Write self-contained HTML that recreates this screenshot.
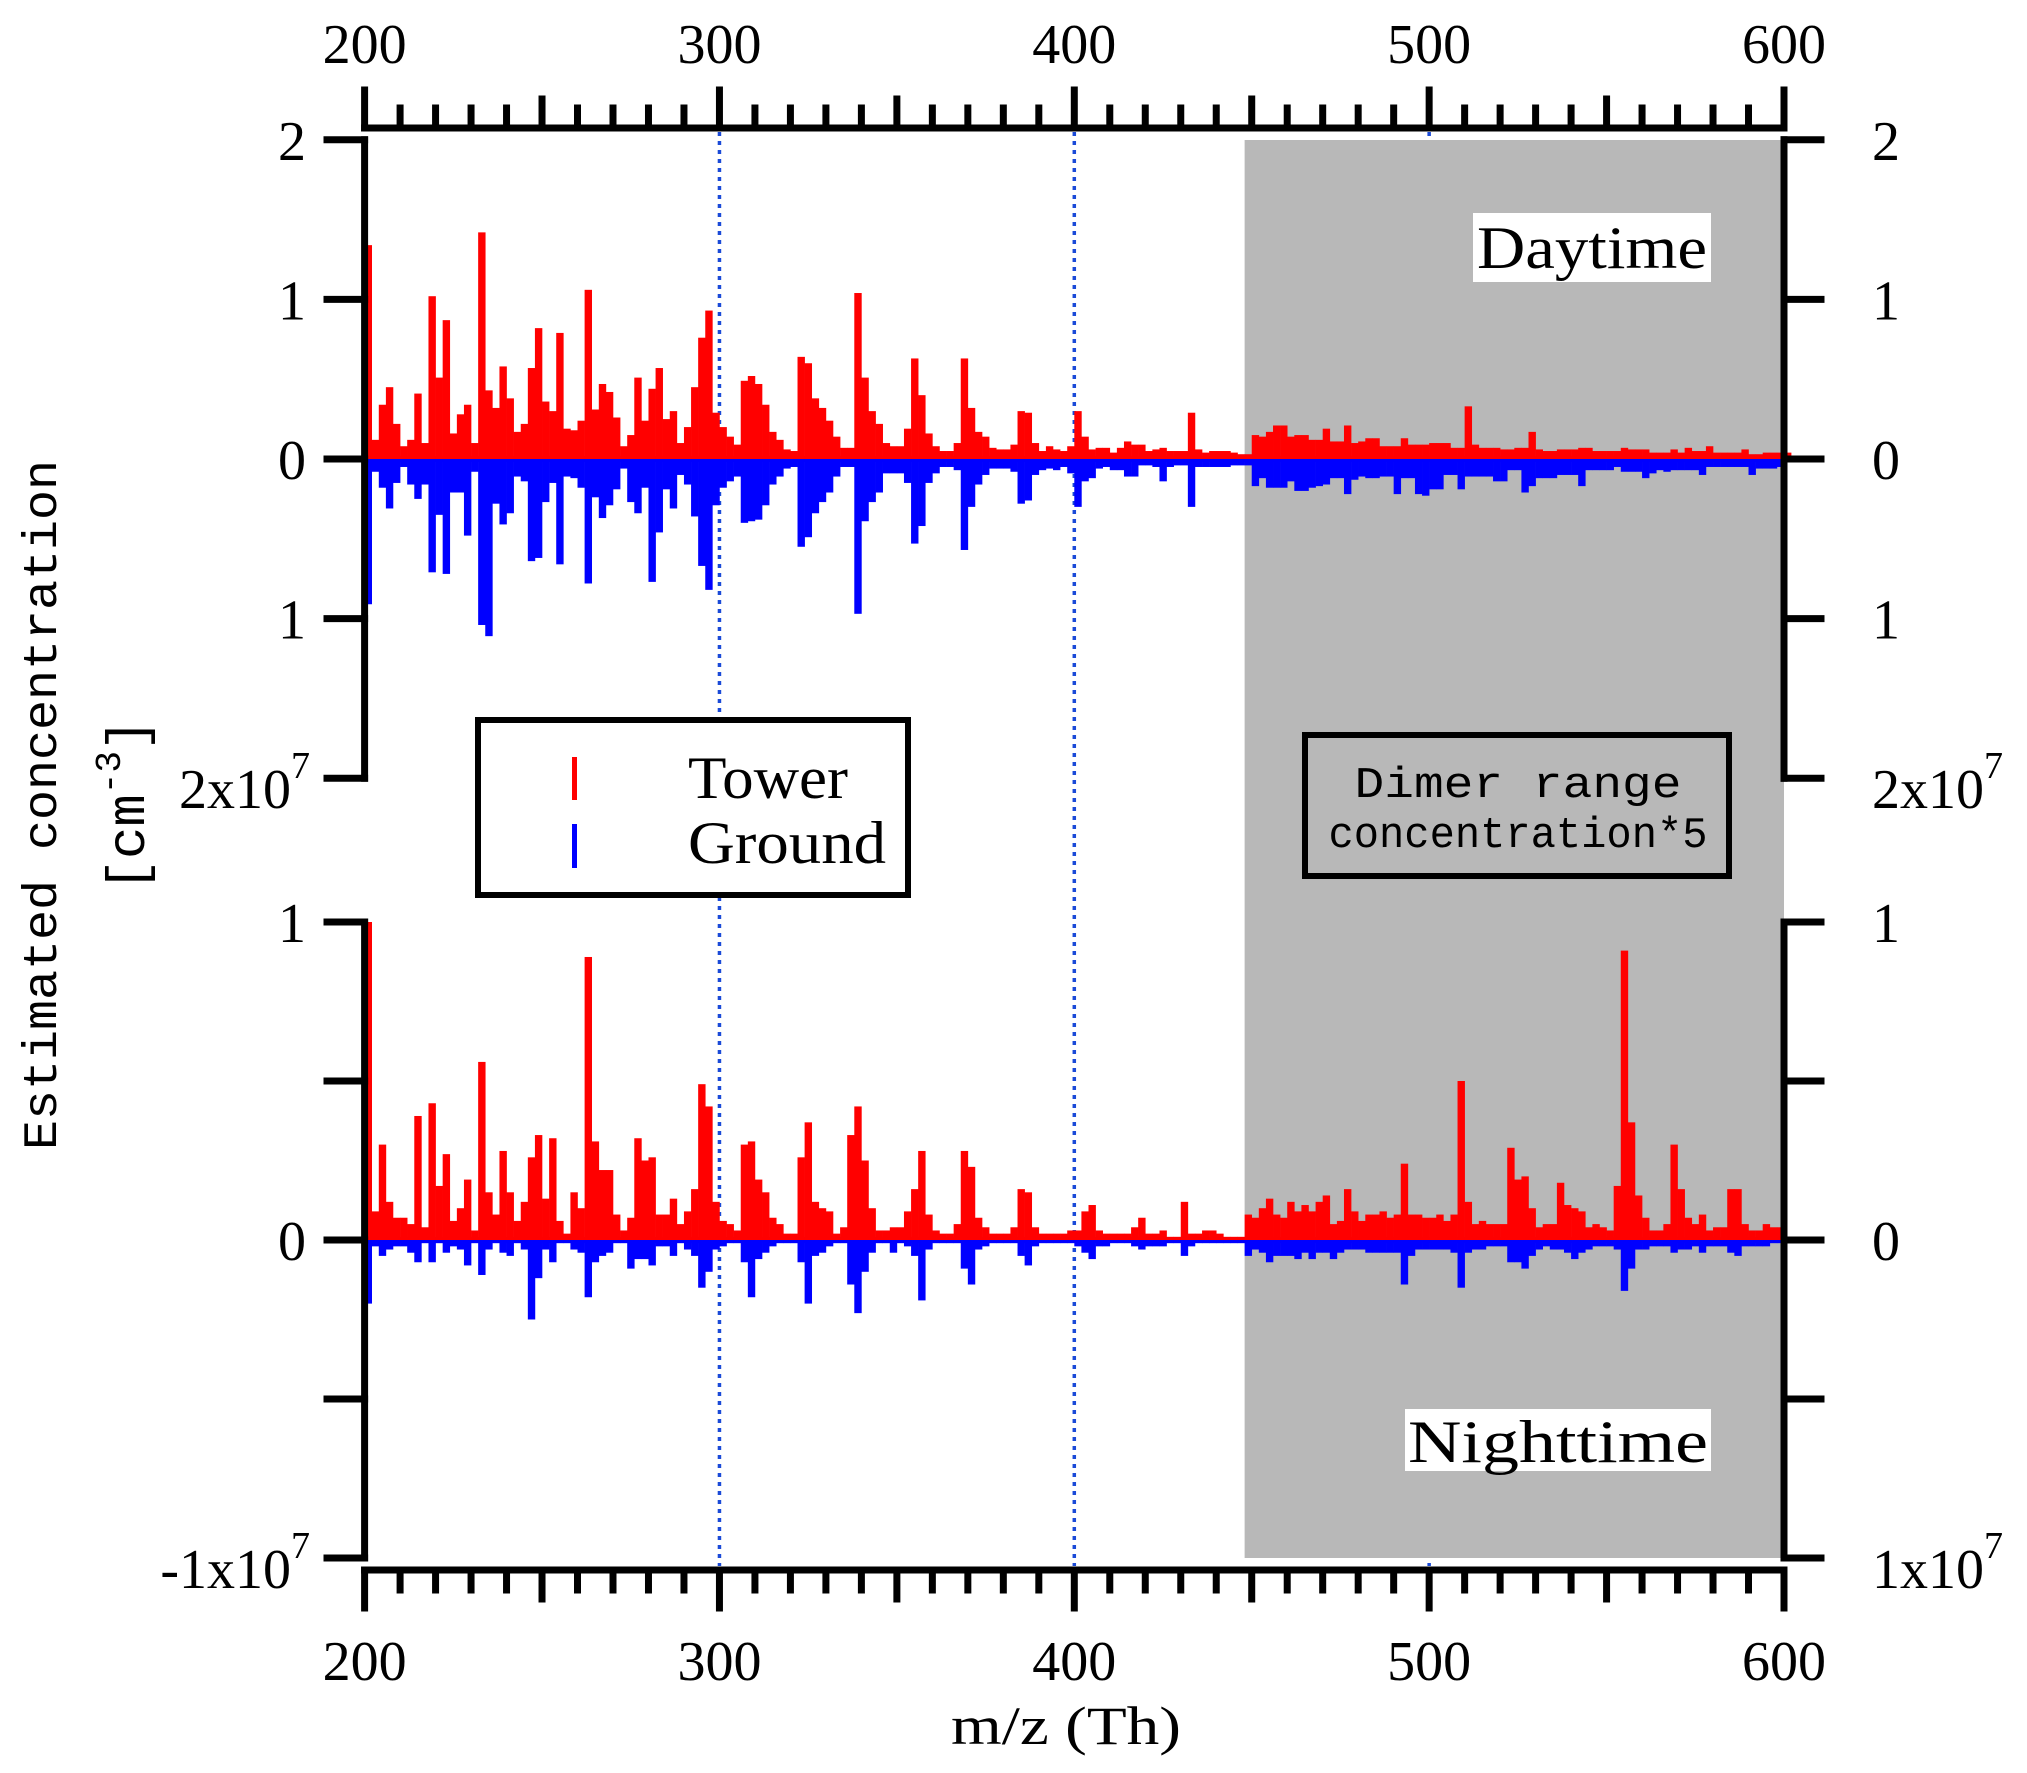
<!DOCTYPE html>
<html><head><meta charset="utf-8"><style>
html,body{margin:0;padding:0;background:#fff}
svg{display:block}
text{font-family:"Liberation Serif",serif;fill:#000}
</style></head><body>
<svg id="chart" width="2027" height="1773" viewBox="0 0 2027 1773" xmlns="http://www.w3.org/2000/svg">
<g id="bg"></g><g id="bars"></g><g id="axes"></g><g id="labels"></g>
</svg>
<script>
const dayTower=[1.34,0.12,0.34,0.45,0.22,0.08,0.12,0.41,0.10,1.02,0.51,0.87,0.16,0.28,0.34,0.10,1.42,0.43,0.32,0.58,0.38,0.17,0.22,0.57,0.82,0.36,0.30,0.79,0.19,0.18,0.24,1.06,0.31,0.47,0.42,0.26,0.08,0.15,0.51,0.24,0.44,0.57,0.25,0.30,0.10,0.20,0.45,0.76,0.93,0.29,0.20,0.14,0.09,0.49,0.52,0.47,0.34,0.17,0.12,0.06,0.05,0.64,0.60,0.38,0.32,0.24,0.14,0.07,0.07,1.04,0.51,0.30,0.22,0.10,0.08,0.08,0.19,0.63,0.40,0.16,0.08,0.05,0.05,0.10,0.63,0.32,0.17,0.14,0.07,0.06,0.06,0.09,0.30,0.29,
0.10,0.05,0.08,0.06,0.05,0.08,0.30,0.14,0.06,0.07,0.07,0.04,0.07,0.11,0.09,0.09,0.05,0.06,0.07,0.05,0.05,0.05,0.29,0.06,0.04,0.05,0.05,0.05,0.04,0.03,0.03,0.15,0.14,0.17,0.21,0.21,0.14,0.15,0.15,0.12,0.12,0.19,0.11,0.11,0.21,0.10,0.11,0.13,0.13,0.08,0.08,0.08,0.13,0.09,0.09,0.09,0.10,0.10,0.10,0.07,0.07,0.33,0.09,0.07,0.07,0.07,0.06,0.06,0.07,0.07,0.17,0.06,0.05,0.05,0.06,0.06,0.06,0.07,0.07,0.05,0.05,0.05,0.05,0.07,0.06,0.06,0.06,0.04,0.04,0.04,0.06,0.04,0.07,0.05,0.05,0.08,0.04,0.04,0.04,0.04,0.06,0.03,0.03,0.04,0.04,0.04,0.04];
const dayGround=[-0.91,-0.08,-0.18,-0.31,-0.15,-0.05,-0.16,-0.25,-0.16,-0.71,-0.35,-0.72,-0.21,-0.21,-0.48,-0.08,-1.04,-1.11,-0.28,-0.41,-0.34,-0.11,-0.14,-0.64,-0.62,-0.27,-0.15,-0.66,-0.11,-0.12,-0.18,-0.78,-0.24,-0.37,-0.29,-0.19,-0.06,-0.27,-0.34,-0.18,-0.77,-0.46,-0.19,-0.31,-0.10,-0.16,-0.36,-0.67,-0.82,-0.29,-0.18,-0.14,-0.11,-0.40,-0.39,-0.38,-0.29,-0.16,-0.11,-0.06,-0.05,-0.55,-0.49,-0.34,-0.27,-0.21,-0.11,-0.05,-0.05,-0.97,-0.39,-0.27,-0.21,-0.09,-0.09,-0.09,-0.15,-0.53,-0.42,-0.15,-0.09,-0.05,-0.05,-0.07,-0.57,-0.30,-0.16,-0.10,-0.06,-0.06,-0.06,-0.08,-0.28,-0.26,
-0.10,-0.07,-0.06,-0.07,-0.05,-0.09,-0.30,-0.14,-0.12,-0.06,-0.05,-0.07,-0.07,-0.11,-0.11,-0.04,-0.04,-0.05,-0.14,-0.05,-0.04,-0.04,-0.30,-0.05,-0.05,-0.05,-0.05,-0.05,-0.04,-0.04,-0.04,-0.17,-0.12,-0.18,-0.18,-0.18,-0.14,-0.20,-0.20,-0.18,-0.17,-0.16,-0.12,-0.12,-0.22,-0.13,-0.11,-0.12,-0.12,-0.11,-0.11,-0.22,-0.12,-0.12,-0.22,-0.23,-0.19,-0.19,-0.10,-0.10,-0.19,-0.11,-0.11,-0.11,-0.11,-0.14,-0.14,-0.07,-0.07,-0.21,-0.17,-0.12,-0.12,-0.12,-0.10,-0.10,-0.10,-0.17,-0.07,-0.07,-0.07,-0.07,-0.05,-0.08,-0.08,-0.08,-0.12,-0.09,-0.07,-0.08,-0.07,-0.07,-0.07,-0.07,-0.10,-0.05,-0.05,-0.05,-0.05,-0.05,-0.05,-0.10,-0.06,-0.06,-0.06,-0.05];
const nightTower=[1.00,0.09,0.30,0.12,0.07,0.07,0.05,0.39,0.04,0.43,0.17,0.27,0.06,0.10,0.19,0.03,0.56,0.15,0.08,0.28,0.15,0.06,0.12,0.26,0.33,0.13,0.32,0.06,0.02,0.15,0.10,0.89,0.31,0.22,0.22,0.08,0.03,0.07,0.32,0.25,0.26,0.08,0.08,0.13,0.05,0.09,0.16,0.49,0.42,0.12,0.06,0.05,0.03,0.30,0.31,0.19,0.15,0.07,0.05,0.02,0.02,0.26,0.37,0.12,0.10,0.09,0.02,0.04,0.33,0.42,0.25,0.10,0.03,0.03,0.04,0.04,0.09,0.16,0.28,0.08,0.03,0.02,0.02,0.05,0.28,0.23,0.07,0.04,0.02,0.02,0.02,0.04,0.16,0.15,0.04,0.02,0.02,0.02,0.02,0.03,
0.03,0.09,0.11,0.03,0.02,0.02,0.02,0.02,0.04,0.07,0.02,0.02,0.03,0.01,0.01,0.12,0.02,0.02,0.03,0.03,0.02,0.01,0.01,0.01,0.08,0.07,0.10,0.13,0.08,0.07,0.12,0.09,0.11,0.09,0.12,0.14,0.05,0.06,0.16,0.09,0.06,0.08,0.08,0.09,0.07,0.08,0.24,0.08,0.08,0.07,0.07,0.08,0.06,0.08,0.50,0.12,0.05,0.06,0.05,0.05,0.05,0.29,0.19,0.20,0.10,0.04,0.05,0.05,0.18,0.11,0.10,0.09,0.04,0.05,0.04,0.03,0.17,0.91,0.37,0.14,0.07,0.03,0.03,0.05,0.30,0.16,0.07,0.05,0.08,0.03,0.04,0.04,0.16,0.16,0.05,0.03,0.03,0.05,0.04,0.04];
const nightGround=[-0.20,-0.02,-0.05,-0.03,-0.02,-0.02,-0.04,-0.07,-0.01,-0.07,-0.01,-0.04,-0.02,-0.03,-0.08,-0.01,-0.11,-0.03,-0.01,-0.04,-0.05,-0.01,-0.03,-0.25,-0.12,-0.03,-0.07,-0.01,-0.01,-0.03,-0.04,-0.18,-0.07,-0.05,-0.04,-0.01,-0.01,-0.09,-0.06,-0.06,-0.08,-0.02,-0.02,-0.05,-0.01,-0.03,-0.05,-0.15,-0.10,-0.03,-0.02,-0.01,-0.01,-0.07,-0.18,-0.06,-0.04,-0.02,-0.01,-0.01,-0.01,-0.07,-0.20,-0.05,-0.04,-0.02,-0.01,-0.01,-0.14,-0.23,-0.10,-0.04,-0.01,-0.01,-0.04,-0.01,-0.02,-0.05,-0.19,-0.03,-0.01,-0.01,-0.01,-0.01,-0.09,-0.14,-0.03,-0.02,-0.01,-0.01,-0.01,-0.01,-0.05,-0.08,-0.02,-0.01,-0.01,-0.01,-0.01,-0.01,
-0.02,-0.04,-0.06,-0.02,-0.02,-0.01,-0.01,-0.01,-0.02,-0.03,-0.02,-0.02,-0.02,-0.01,-0.01,-0.05,-0.02,-0.01,-0.01,-0.01,-0.01,-0.01,-0.01,-0.01,-0.05,-0.03,-0.04,-0.07,-0.05,-0.05,-0.05,-0.06,-0.04,-0.06,-0.04,-0.04,-0.06,-0.04,-0.03,-0.03,-0.03,-0.04,-0.04,-0.04,-0.04,-0.04,-0.14,-0.05,-0.03,-0.03,-0.03,-0.03,-0.03,-0.04,-0.15,-0.04,-0.03,-0.03,-0.02,-0.02,-0.02,-0.07,-0.07,-0.09,-0.05,-0.03,-0.02,-0.03,-0.03,-0.04,-0.06,-0.04,-0.03,-0.02,-0.02,-0.02,-0.03,-0.16,-0.09,-0.03,-0.03,-0.02,-0.02,-0.02,-0.04,-0.03,-0.03,-0.02,-0.04,-0.02,-0.02,-0.02,-0.04,-0.05,-0.02,-0.02,-0.02,-0.02,-0.01,-0.01];
const mzStart=200, binWidth=2;
const xTicks=[200,300,400,500,600];
const upperTicks=[2,1,0,-1,-2];
const upperLabels=["2","1","0","1","2x10"];
const lowerTicks=[1,0.5,0,-0.5,-1];
const lowerLabels=["1","","0","","-1x10"];
const rightLowerLabels=["1","","0","","1x10"];

const NS="http://www.w3.org/2000/svg";
const X0=364.6,X1=1784,upZero=459,upScale=159.6,loZero=1240,loScale=318;
const xs=m=>X0+(m-200)*(X1-X0)/400;
const yU=v=>upZero-v*upScale, yL=v=>loZero-v*loScale;
function mk(tag,attrs,parent){const e=document.createElementNS(NS,tag);for(const k in attrs)e.setAttribute(k,attrs[k]);parent.appendChild(e);return e;}
const bg=document.getElementById('bg'),bars=document.getElementById('bars'),axes=document.getElementById('axes'),labels=document.getElementById('labels');

[300,400,500].forEach(m=>{
 const l=mk('line',{x1:xs(m),x2:xs(m),y1:132,y2:1566,stroke:'#1a4ad8','stroke-width':3.5,'stroke-dasharray':'4,5'},bg);
 
 
});
const gr=mk('rect',{x:xs(448),y:140,width:xs(600)-xs(448),height:1418,fill:'#b8b8b8'},bg);



function drawSeries(arr,yf,color,name){
 const g=mk('g',{},bars);
 
 
 arr.forEach((v,i)=>{
  const m=mzStart+i*binWidth;
  const x=xs(m),w=xs(m+binWidth)-x;
  const y0=yf(0),y1=yf(v);
  const r=mk('rect',{x:x,y:Math.min(y0,y1),width:w+0.3,height:Math.max(Math.abs(y1-y0),1.5),fill:color},g);
  
  
 });
}
drawSeries(dayTower,yU,'#ff0000','day-tower-series');
drawSeries(dayGround,yU,'#0000ff','day-ground-series');
drawSeries(nightTower,yL,'#ff0000','night-tower-series');
drawSeries(nightGround,yL,'#0000ff','night-ground-series');
mk('rect',{x:X0,y:upZero-3,width:X1-X0,height:3,fill:'#ff0000'},bars);
mk('rect',{x:X0,y:upZero,width:X1-X0,height:3,fill:'#0000ff'},bars);
mk('rect',{x:X0,y:loZero-3,width:X1-X0,height:3,fill:'#ff0000'},bars);
mk('rect',{x:X0,y:loZero,width:X1-X0,height:3,fill:'#0000ff'},bars);

const SW=7;
function line(x1,y1,x2,y2,name){const l=mk('line',{x1,y1,x2,y2,stroke:'#000','stroke-width':SW,'stroke-linecap':'square'},axes);return l;}
line(X0,128,X1,128,'top-x-axis');
line(X0,1570,X1,1570,'bottom-x-axis');
for(let m=200;m<=600;m+=10){
 const big=m%100===0, mid=m%50===0;
 line(xs(m),128,xs(m),big?90:(mid?99:108),'top-x-tick');
 line(xs(m),1570,xs(m),big?1608:(mid?1599:1590),'bottom-x-tick');
}
xTicks.forEach(m=>{
 const t=mk('text',{x:xs(m),y:63,'text-anchor':'middle','font-size':56},labels);t.textContent=m;
 
 const b=mk('text',{x:xs(m),y:1680,'text-anchor':'middle','font-size':56},labels);b.textContent=m;
 
});
line(X0,yU(2),X0,yU(-2),'left-upper-y-axis');
line(X1,yU(2),X1,yU(-2),'right-upper-y-axis');
line(X0,yL(1),X0,yL(-1),'left-lower-y-axis');
line(X1,yL(1),X1,yL(-1),'right-lower-y-axis');
function ylab(x,y,txt,anchor,sup,name){
 if(!txt)return;
 const t=mk('text',{x:x,y:y,'text-anchor':anchor,'font-size':56},labels);
 
 t.textContent=txt;
 if(sup){const s=mk('tspan',{dy:-30,'font-size':38},t);s.textContent='7';}
}
upperTicks.forEach((v,i)=>{
 line(327,yU(v),X0,yU(v),'left-upper-tick');line(X1,yU(v),1821,yU(v),'right-upper-tick');
 const sup=i===upperTicks.length-1;
 ylab(sup?310:306,yU(v)+(sup?30:20),upperLabels[i],'end',sup,'left-upper-tick-label');
 ylab(1872,yU(v)+(sup?30:20),upperLabels[i],'start',sup,'right-upper-tick-label');
});
lowerTicks.forEach((v,i)=>{
 line(327,yL(v),X0,yL(v),'left-lower-tick');line(X1,yL(v),1821,yL(v),'right-lower-tick');
 const sup=i===lowerTicks.length-1;
 ylab(sup?310:306,yL(v)+(sup?30:20),lowerLabels[i],'end',sup,'left-lower-tick-label');
 ylab(1872,yL(v)+(sup?30:20),rightLowerLabels[i],'start',sup,'right-lower-tick-label');
});
</script>
<svg style="position:absolute;left:0;top:0" width="2027" height="1773">
<text x="1066" y="1744" text-anchor="middle" font-size="54" textLength="230" lengthAdjust="spacingAndGlyphs" style="font-family:'Liberation Serif',serif">m/z (Th)</text>
<text transform="translate(56,805) rotate(-90)" text-anchor="middle" font-size="48" textLength="690" lengthAdjust="spacingAndGlyphs" style="font-family:'Liberation Mono',monospace">Estimated concentration</text>
<text transform="translate(144,805) rotate(-90)" text-anchor="middle" font-size="54" style="font-family:'Liberation Mono',monospace">[cm<tspan dy="-24" font-size="36">-3</tspan><tspan dy="24">]</tspan></text>
<rect x="1473" y="213" width="238" height="69" fill="#fff"/>
<text x="1592" y="268" text-anchor="middle" font-size="60" textLength="230" lengthAdjust="spacingAndGlyphs" style="font-family:'Liberation Serif',serif">Daytime</text>
<rect x="1405" y="1409" width="306" height="62" fill="#fff"/>
<text x="1558" y="1462" text-anchor="middle" font-size="60" textLength="300" lengthAdjust="spacingAndGlyphs" style="font-family:'Liberation Serif',serif">Nighttime</text>
<g>
<rect x="478" y="720" width="430" height="175" fill="#fff" stroke="#000" stroke-width="6"/>
<rect x="572" y="757" width="5" height="43" fill="#ff0000"/>
<rect x="572" y="824" width="5" height="44" fill="#0000ff"/>
<text x="688" y="798" font-size="60" textLength="160" lengthAdjust="spacingAndGlyphs" style="font-family:'Liberation Serif',serif">Tower</text>
<text x="688" y="863" font-size="60" textLength="198" lengthAdjust="spacingAndGlyphs" style="font-family:'Liberation Serif',serif">Ground</text>
</g>
<g>
<rect x="1305" y="735" width="424" height="141" fill="none" stroke="#000" stroke-width="6"/>
<text x="1518" y="797" text-anchor="middle" font-size="44" textLength="327" lengthAdjust="spacingAndGlyphs" style="font-family:'Liberation Mono',monospace">Dimer range</text>
<text x="1518" y="847" text-anchor="middle" font-size="44" textLength="379" lengthAdjust="spacingAndGlyphs" style="font-family:'Liberation Mono',monospace">concentration*5</text>
</g>
</svg>
</body></html>
